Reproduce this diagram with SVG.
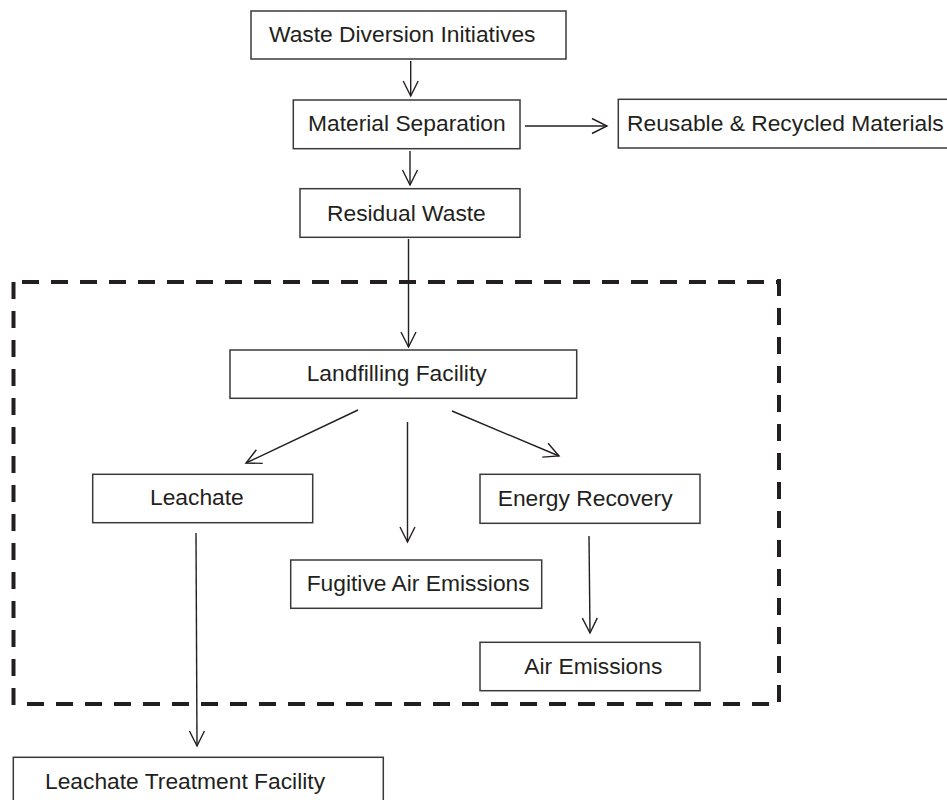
<svg xmlns="http://www.w3.org/2000/svg" width="947" height="800" viewBox="0 0 947 800">
<style>
.box{fill:#fff;stroke:#3a3a3a;stroke-width:1.5}
.lbl{font-family:"Liberation Sans",Arial,sans-serif;font-size:22.8px;fill:#231f20}
.con{stroke:#231f20;stroke-width:1.4;fill:none;marker-end:url(#arr)}
.dash{stroke:#231f20;stroke-width:4;stroke-dasharray:17 12;fill:none}
</style>
<defs>
<marker id="arr" markerUnits="userSpaceOnUse" markerWidth="20" markerHeight="20" viewBox="-18 -10 20 20" refX="0" refY="0" orient="auto">
<path d="M-15,-7.5 L0,0 L-15,7.5" fill="none" stroke="#231f20" stroke-width="1.4"/>
</marker>
</defs>
<rect width="947" height="800" fill="#fff"/>
<g id="boundary">
<line class="dash" x1="22" y1="282" x2="777" y2="282"/>
<line class="dash" x1="13.5" y1="282" x2="13.5" y2="706"/>
<line class="dash" x1="779" y1="279" x2="779" y2="702"/>
<line class="dash" x1="27" y1="704" x2="770" y2="704"/>
</g>
<g id="connectors">
<line class="con" x1="410.7" y1="61" x2="410.7" y2="96"/>
<line class="con" x1="410" y1="151" x2="410" y2="185"/>
<line class="con" x1="525" y1="126" x2="607" y2="126"/>
<line class="con" x1="408.5" y1="239" x2="408.5" y2="347"/>
<line class="con" x1="358" y1="410" x2="246" y2="463"/>
<line class="con" x1="407.5" y1="422" x2="407.5" y2="542"/>
<line class="con" x1="452" y1="411" x2="559" y2="456"/>
<line class="con" x1="589" y1="536" x2="590" y2="633"/>
<line class="con" x1="196" y1="533" x2="197" y2="746"/>
</g>
<g id="waste-diversion">
<rect class="box" x="251" y="11" width="315" height="48"/>
<text class="lbl" x="269" y="42">Waste Diversion Initiatives</text>
</g>
<g id="material-separation">
<rect class="box" x="293.3" y="100" width="226.7" height="48.7"/>
<text class="lbl" x="308" y="131">Material Separation</text>
</g>
<g id="reusable">
<rect class="box" x="618.3" y="99.3" width="340" height="48.7"/>
<text class="lbl" x="627" y="130.5">Reusable &amp; Recycled Materials</text>
</g>
<g id="residual-waste">
<rect class="box" x="300" y="188.7" width="220" height="48.6"/>
<text class="lbl" x="327" y="220.5">Residual Waste</text>
</g>
<g id="landfilling">
<rect class="box" x="230" y="350" width="346.7" height="48.3"/>
<text class="lbl" x="306.7" y="381">Landfilling Facility</text>
</g>
<g id="leachate">
<rect class="box" x="92.7" y="474.3" width="220" height="48.4"/>
<text class="lbl" x="150" y="504.5">Leachate</text>
</g>
<g id="energy-recovery">
<rect class="box" x="480" y="474.3" width="220" height="49"/>
<text class="lbl" x="497.7" y="506">Energy Recovery</text>
</g>
<g id="fugitive">
<rect class="box" x="290.7" y="560" width="251" height="48.3"/>
<text class="lbl" x="306.7" y="591">Fugitive Air Emissions</text>
</g>
<g id="air-emissions">
<rect class="box" x="480" y="642.3" width="220" height="48.4"/>
<text class="lbl" x="524.3" y="673.5">Air Emissions</text>
</g>
<g id="leachate-treatment">
<rect class="box" x="13.3" y="757.3" width="370" height="60"/>
<text class="lbl" x="45" y="788.5">Leachate Treatment Facility</text>
</g>
</svg>
